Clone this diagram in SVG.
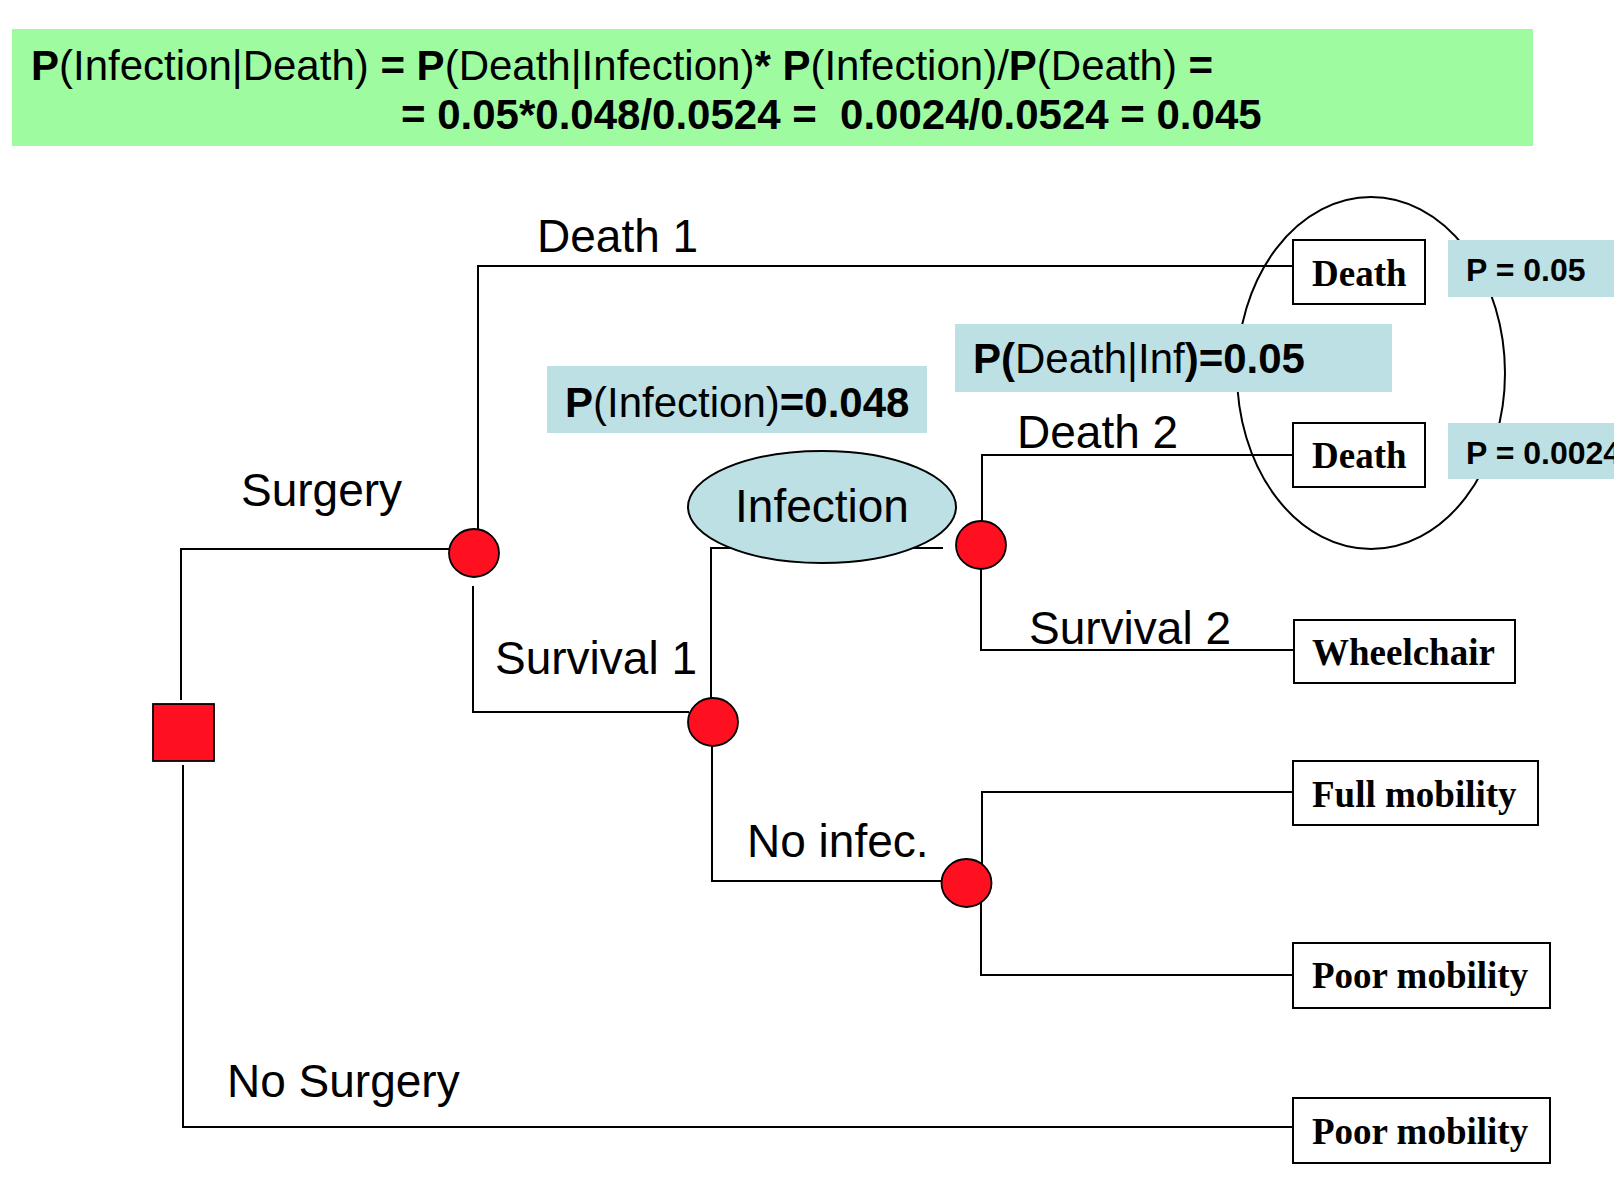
<svg xmlns="http://www.w3.org/2000/svg" width="1614" height="1192" viewBox="0 0 1614 1192">
<style>
.ln{fill:none;stroke:#000;stroke-width:2}
.lbl{font-family:"Liberation Sans",Arial,sans-serif;font-size:46px;fill:#000}
.box{fill:#fff;stroke:#000;stroke-width:2}
.btx{font-family:"Liberation Serif","Times New Roman",serif;font-weight:bold;font-size:37px;fill:#000}
.chance{fill:#FF1020;stroke:#000;stroke-width:1.8}
.pbox{fill:#BDE0E4}
.ptx{font-family:"Liberation Sans",Arial,sans-serif;font-size:42px;fill:#000}
.b{font-weight:bold}
</style>
<rect x="0" y="0" width="1614" height="1192" fill="#fff"/>
<g id="formula">
<rect x="12" y="29" width="1521" height="117" fill="#9FFB9F"/>
<text class="ptx" x="31" y="80"><tspan class="b">P</tspan>(Infection|Death)<tspan class="b"> = P</tspan>(Death|Infection)<tspan class="b">* P</tspan>(Infection)/<tspan class="b">P</tspan>(Death)<tspan class="b"> =</tspan></text>
<text class="ptx b" x="401" y="129" xml:space="preserve">= 0.05*0.048/0.0524 =  0.0024/0.0524 = 0.045</text>
</g>
<g id="death-group-ellipse">
<ellipse cx="1371" cy="373" rx="134" ry="176" fill="none" stroke="#000" stroke-width="2"/>
</g>
<g id="p-infection">
<rect class="pbox" x="547" y="366" width="380" height="67"/>
<text class="ptx" x="565" y="417"><tspan class="b">P</tspan>(Infection)<tspan class="b">=0.048</tspan></text>
</g>
<g id="p-death-inf">
<rect class="pbox" x="955" y="324" width="437" height="68"/>
<text class="ptx" x="973" y="373"><tspan class="b">P(</tspan>Death|Inf<tspan class="b">)=0.05</tspan></text>
</g>
<g id="p-death1">
<rect class="pbox" x="1448" y="240" width="170" height="57"/>
<text class="ptx b" x="1466" y="281" style="font-size:32px">P = 0.05</text>
</g>
<g id="p-death2">
<rect class="pbox" x="1448" y="423" width="170" height="56"/>
<text class="ptx b" x="1466" y="464" style="font-size:32px">P = 0.0024</text>
</g>
<g id="connectors">
<path class="ln" d="M181,700 V549 H449"/>
<path class="ln" d="M478,536 V266 H1293"/>
<path class="ln" d="M473,586 V712 H689"/>
<path class="ln" d="M711,698 V548 H731"/>
<path class="ln" d="M913,548 H943"/>
<path class="ln" d="M982,521 V455 H1293"/>
<path class="ln" d="M981,569 V650 H1293"/>
<path class="ln" d="M712,746 V881 H942"/>
<path class="ln" d="M982,864 V792 H1293"/>
<path class="ln" d="M981,902 V975 H1293"/>
<path class="ln" d="M183,765 V1127 H1293"/>
</g>
<g id="decision">
<rect x="153" y="704" width="61" height="57" fill="#FF1020" stroke="#000" stroke-width="1.8"/>
</g>
<g id="chance1"><ellipse class="chance" cx="474" cy="553" rx="25" ry="24"/></g>
<g id="chance2"><ellipse class="chance" cx="713" cy="722" rx="25" ry="24"/></g>
<g id="chance3"><ellipse class="chance" cx="981" cy="545" rx="25" ry="24"/></g>
<g id="chance4"><ellipse class="chance" cx="966.5" cy="883" rx="25" ry="24"/></g>
<g id="infection">
<ellipse cx="822" cy="507" rx="134" ry="56" fill="#BDE0E4" stroke="#000" stroke-width="2"/>
<text class="lbl" x="822" y="522" text-anchor="middle">Infection</text>
</g>
<g id="labels">
<text class="lbl" x="537" y="252">Death 1</text>
<text class="lbl" x="241" y="506">Surgery</text>
<text class="lbl" x="495" y="674">Survival 1</text>
<text class="lbl" x="1017" y="448">Death 2</text>
<text class="lbl" x="1029" y="644">Survival 2</text>
<text class="lbl" x="747" y="857">No infec.</text>
<text class="lbl" x="227" y="1097">No Surgery</text>
</g>
<g id="death1"><rect class="box" x="1293" y="240" width="132" height="64"/><text class="btx" x="1312" y="286">Death</text></g>
<g id="death2"><rect class="box" x="1293" y="423" width="132" height="64"/><text class="btx" x="1312" y="468">Death</text></g>
<g id="wheelchair"><rect class="box" x="1294" y="620" width="221" height="63"/><text class="btx" x="1312" y="665">Wheelchair</text></g>
<g id="full-mobility"><rect class="box" x="1293" y="761" width="245" height="64"/><text class="btx" x="1312" y="807">Full mobility</text></g>
<g id="poor-mobility-1"><rect class="box" x="1293" y="943" width="257" height="65"/><text class="btx" x="1312" y="988">Poor mobility</text></g>
<g id="poor-mobility-2"><rect class="box" x="1293" y="1098" width="257" height="65"/><text class="btx" x="1312" y="1144">Poor mobility</text></g>
</svg>
